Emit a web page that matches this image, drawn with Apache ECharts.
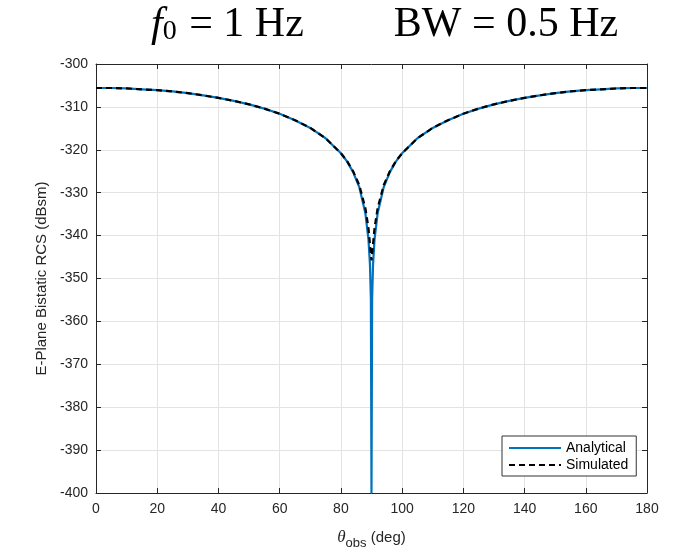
<!DOCTYPE html>
<html><head><meta charset="utf-8">
<script src="https://cdn.jsdelivr.net/npm/echarts@6/dist/echarts.min.js"></script>
<style>html,body{margin:0;padding:0;background:#fff}#c{width:684px;height:555px}</style>
</head><body><div id="c"></div>
<script>
var theta = [0,5,10,15,20,25,30,35,40,45,50,55,60,65,70,75,80,82,84,86,88,89,89.5,89.8,90,90.2,90.5,91,92,94,96,98,100,105,110,115,120,125,130,135,140,145,150,155,160,165,170,175,180];
var analytical = [-305.6,-305.6,-305.7,-305.9,-306.1,-306.4,-306.8,-307.3,-307.9,-308.6,-309.4,-310.4,-311.6,-313.1,-314.9,-317.3,-320.8,-322.7,-325.2,-328.7,-334.8,-340.8,-346.8,-354.8,-400,-354.8,-346.8,-340.8,-334.8,-328.7,-325.2,-322.7,-320.8,-317.3,-314.9,-313.1,-311.6,-310.4,-309.4,-308.6,-307.9,-307.3,-306.8,-306.4,-306.1,-305.9,-305.7,-305.6,-305.6];
var thetaSim = [0,5,10,15,20,25,30,35,40,45,50,55,60,65,70,75,80,82,84,86,88,89,90,91,92,94,96,98,100,105,110,115,120,125,130,135,140,145,150,155,160,165,170,175,180];
var simulated = [-305.6,-305.6,-305.7,-305.9,-306.1,-306.4,-306.8,-307.3,-307.9,-308.6,-309.4,-310.4,-311.6,-313.1,-314.9,-317.3,-320.8,-322.6,-325.0,-328.2,-333.6,-338.2,-345.8,-338.2,-333.6,-328.2,-325.0,-322.6,-320.8,-317.3,-314.9,-313.1,-311.6,-310.4,-309.4,-308.6,-307.9,-307.3,-306.8,-306.4,-306.1,-305.9,-305.7,-305.6,-305.6];
var xTicks = [0,20,40,60,80,100,120,140,160,180];
var yTicks = [-400,-390,-380,-370,-360,-350,-340,-330,-320,-310,-300];

function pairs(xs, ys){ return xs.map(function(x,i){return [x, ys[i]];}); }
var axCol = '#262626';
var serif = 'Liberation Serif';
var chart = echarts.init(document.getElementById('c'));
var baseX = {type:'value', min:xTicks[0], max:xTicks[xTicks.length-1], interval:20};
var baseY = {type:'value', min:yTicks[0], max:yTicks[yTicks.length-1], interval:10};
chart.setOption({
  animation:false,
  backgroundColor:'#fff',
  title:{
    text:'{i|f}{s|0}{n| = 1 Hz}{g|}{n|BW = 0.5 Hz}',
    left:146, top:-3,
    textStyle:{fontWeight:'normal',rich:{
      i:{fontFamily:serif,fontStyle:'italic',fontWeight:'normal',fontSize:42,color:'#000',verticalAlign:'bottom'},
      s:{fontFamily:serif,fontWeight:'normal',fontSize:28,color:'#000',padding:[16,2,0,0],verticalAlign:'bottom'},
      n:{fontFamily:serif,fontWeight:'normal',fontSize:42,color:'#000',verticalAlign:'bottom'},
      g:{width:90,fontSize:42,verticalAlign:'bottom'}
    }}
  },
  grid:{left:96, right:37, top:64, bottom:62},
  legend:{
    left:502, top:436, orient:'vertical',
    backgroundColor:'#fff', borderColor:'#333', borderWidth:1,
    padding:[5,8,4,6], itemGap:3, itemWidth:52, itemHeight:12,
    itemStyle:{opacity:0},
    textStyle:{fontFamily:'Liberation Sans',fontSize:14,color:'#000'},
    data:['Analytical','Simulated']
  },
  xAxis:[
    Object.assign({}, baseX, {
      position:'bottom',
      axisLine:{lineStyle:{color:axCol,width:1}},
      axisTick:{inside:true,length:5,lineStyle:{color:axCol}},
      axisLabel:{fontFamily:'Liberation Sans',fontSize:14,color:axCol,margin:9},
      splitLine:{show:true,lineStyle:{color:'#e3e3e3',width:1}},
      name:'{t|θ}{s|obs}{n| (deg)}', nameLocation:'middle', nameGap:32,
      nameTextStyle:{rich:{
        t:{fontFamily:serif,fontStyle:'italic',fontSize:17,color:axCol},
        s:{fontFamily:'Liberation Sans',fontSize:13,color:axCol,padding:[12,0,0,0]},
        n:{fontFamily:'Liberation Sans',fontSize:15,color:axCol}
      }}
    }),
    Object.assign({}, baseX, {
      position:'top',
      axisLine:{show:true,onZero:false,lineStyle:{color:axCol,width:1}},
      axisTick:{show:true,inside:true,length:5,lineStyle:{color:axCol}},
      axisLabel:{show:false}, splitLine:{show:false}
    })
  ],
  yAxis:[
    Object.assign({}, baseY, {
      position:'left',
      axisLine:{show:true,onZero:false,lineStyle:{color:axCol,width:1}},
      axisTick:{show:true,inside:true,length:5,lineStyle:{color:axCol}},
      axisLabel:{fontFamily:'Liberation Sans',fontSize:14,color:axCol,margin:8},
      splitLine:{show:true,lineStyle:{color:'#e3e3e3',width:1}},
      name:'E-Plane Bistatic RCS (dBsm)', nameLocation:'middle', nameGap:47, nameRotate:90,
      nameTextStyle:{fontFamily:'Liberation Sans',fontSize:15,color:axCol}
    }),
    Object.assign({}, baseY, {
      position:'right',
      axisLine:{show:true,onZero:false,lineStyle:{color:axCol,width:1}},
      axisTick:{show:true,inside:true,length:5,lineStyle:{color:axCol}},
      axisLabel:{show:false}, splitLine:{show:false}
    })
  ],
  series:[
    {name:'Analytical', type:'line', xAxisIndex:0, yAxisIndex:0, data:pairs(theta, analytical),
     showSymbol:false, symbol:'none', smooth:false, clip:true,
     lineStyle:{color:'#0072BD', width:2.2}, itemStyle:{color:'#0072BD'}},
    {name:'Simulated', type:'line', xAxisIndex:0, yAxisIndex:0, data:pairs(thetaSim, simulated),
     showSymbol:false, symbol:'none', smooth:false, clip:true,
     lineStyle:{color:'#000', width:2.2, type:[6,4]}, itemStyle:{color:'#000'}}
  ]
});
</script>
</body></html>
